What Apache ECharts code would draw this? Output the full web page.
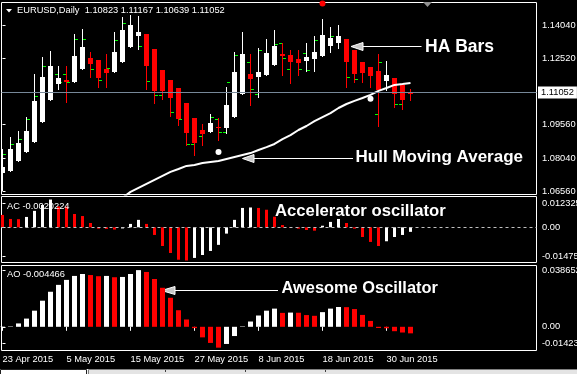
<!DOCTYPE html>
<html><head><meta charset="utf-8">
<script src="https://cdn.jsdelivr.net/npm/echarts@6.0.0/dist/echarts.min.js"></script>
<style>html,body{margin:0;padding:0;background:#000;overflow:hidden}#c{width:577px;height:374px}</style>
</head><body><div id="c"></div>
<script>
// ---------- data ----------
const symbolName = 'EURUSD,Daily';
const lastOHLC = [1.10823, 1.11167, 1.10639, 1.11052];

const haOpen = [1.0737,1.0746,1.0791,1.0832,1.0877,1.0967,1.1066,1.1138,1.1156,1.1147,
  1.1206,1.1255,1.1246,1.1206,1.1192,1.1237,1.1305,1.1355,1.1364,1.1296,
  1.1201,1.1156,1.1120,1.1053,1.0985,1.0931,1.0922,1.0944,1.0940,1.0990,
  1.1093,1.1183,1.1170,1.1179,1.1224,1.1273,1.1269,1.1251,1.1242,1.1251,
  1.1264,1.1309,1.1323,1.1341,1.1291,1.1237,1.1215,1.1197,1.1152,1.1165,
  1.1134,1.1102];
const haClose = [1.0764,1.0845,1.0872,1.0926,1.1062,1.1170,1.1219,1.1165,1.1147,1.1264,
  1.1305,1.1228,1.1165,1.1188,1.1282,1.1382,1.1404,1.1373,1.1219,1.1107,
  1.1107,1.1075,1.0981,1.0917,1.0872,1.0913,1.0963,1.0940,1.1044,1.1192,
  1.1273,1.1161,1.1192,1.1278,1.1309,1.1264,1.1237,1.1233,1.1260,1.1282,
  1.1359,1.1346,1.1355,1.1237,1.1183,1.1188,1.1174,1.1111,1.1179,1.1093,
  1.1066,1.1092];
const haLow = [1.0661,1.0746,1.0791,1.0832,1.0877,1.0967,1.1066,1.1116,1.1057,1.1147,
  1.1206,1.1170,1.1125,1.1125,1.1192,1.1237,1.1305,1.1296,1.1116,1.1053,
  1.1071,1.0994,1.0953,1.0863,1.0818,1.0863,1.0922,1.0886,1.0917,1.0990,
  1.1093,1.1044,1.1080,1.1179,1.1224,1.1179,1.1143,1.1179,1.1197,1.1197,
  1.1264,1.1282,1.1300,1.1125,1.1147,1.1147,1.1125,1.0949,1.1111,1.1035,
  1.1026,1.1064];
const haHigh = [1.0845,1.0899,1.0926,1.0990,1.1183,1.1260,1.1287,1.1219,1.1219,1.1364,
  1.1386,1.1282,1.1246,1.1273,1.1373,1.1440,1.1449,1.1445,1.1364,1.1296,
  1.1201,1.1156,1.1120,1.1053,1.0985,1.0958,1.1003,1.0985,1.1125,1.1282,
  1.1373,1.1273,1.1300,1.1341,1.1382,1.1323,1.1291,1.1291,1.1323,1.1355,
  1.1431,1.1395,1.1404,1.1341,1.1291,1.1237,1.1215,1.1273,1.1242,1.1165,
  1.1134,1.1117];

// underlying OHLC bar open / close ticks (visible ones)
const N = null;
const barOpen = [N,N,N,N,N,N,N,1.1183,1.1183,N,
  N,N,N,N,N,N,N,N,N,N,
  1.1086,N,N,N,1.0867,1.0901,N,1.0979,1.0921,N,
  N,1.1233,1.1093,N,N,1.1320,1.1204,N,1.1276,N,
  N,N,N,N,N,N,N,1.1003,N,N,
  1.1047,N];
const barClose = [1.0821,1.0867,1.0886,1.0976,1.1081,1.1218,N,1.1143,1.1143,1.1338,
  1.1338,1.1203,1.1152,1.1209,1.1333,1.1409,N,1.1306,1.1149,1.1086,
  N,1.1012,1.0976,1.0867,N,N,1.0988,1.0921,1.1147,1.1267,
  N,1.1114,1.1287,N,1.1317,1.1254,N,1.1204,1.1201,1.1333,
  N,1.1354,N,1.1167,1.1159,N,N,1.1234,N,1.1047,
  N,N];

const hullMA = [N,N,N,N,N,N,N,N,N,N,N,N,N,N,N,
  1.0625,1.0652,1.0670,1.0688,1.0706,1.0724,1.0742,1.0755,1.0769,1.0773,
  1.0782,1.0787,1.0791,1.0800,1.0809,1.0818,1.0827,1.0841,1.0854,1.0868,
  1.0890,1.0908,1.0931,1.0949,1.0971,1.0989,1.1007,1.1030,1.1048,1.1062,
  1.1075,1.1089,1.1107,1.1120,1.1134,1.1138,1.1143];
const hullDotIdx = [27, 46];
const hullDotVal = [1.0832, 1.1072];
const alertIdx = [40];
const alertVal = [1.1501];

const ac = [0.0055,0.0037,0.0036,0.0046,0.0073,0.0099,0.012325,0.0093,0.0092,0.0059,
  0.0050,0.0019,-0.0006,-0.0007,-0.0010,-0.0005,0.0015,0.0033,0.0015,-0.0034,
  -0.0083,-0.0114,-0.0144,-0.01475,-0.0136,-0.0123,-0.0105,-0.0078,-0.0028,0.0033,
  0.0086,0.0088,0.0086,0.0078,0.0047,0.0010,-0.0003,-0.0006,-0.0012,-0.0015,
  0.0007,0.0024,0.0037,0.0019,-0.0006,-0.0043,-0.0065,-0.0083,-0.0062,-0.0043,
  -0.0034,-0.0020224];
const acPrev = 0.0060;
const ao = [0.0002,0.0003,0.0023,0.0056,0.0110,0.0178,0.0239,0.0286,0.0320,0.0347,
  0.0360,0.0353,0.0345,0.0347,0.0338,0.0340,0.0360,0.038652,0.0374,0.0326,
  0.0266,0.0198,0.0113,0.0050,-0.0009,-0.0072,-0.0110,-0.01423,-0.0117,-0.0063,
  0.0003,0.0036,0.0077,0.0110,0.0124,0.0095,0.0097,0.0096,0.0080,0.0075,
  0.0100,0.0124,0.0135,0.0134,0.0121,0.0081,0.0040,-0.0008,-0.0010,-0.0030,
  -0.0039,-0.004466];
const aoPrev = 0.0001;

const dateLabels = ['23 Apr 2015','5 May 2015','15 May 2015','27 May 2015','8 Jun 2015','18 Jun 2015','30 Jun 2015'];
const dateLabelIdx = [0, 8, 16, 24, 32, 40, 48];
const priceTicks = [1.14040, 1.12520, 1.09560, 1.08040, 1.06560];
const acTickPos = [0.010656, 0, -0.013054];
const acTickText = ['0.012325', '0.00', '-0.01475'];
const aoTickPos = [0.03826, 0, -0.011253];
const aoTickText = ['0.038652', '0.00', '-0.01423'];

// ---------- chart ----------
const FONT = '"Liberation Sans", Arial, sans-serif';
const RED = '#ff0000', WHITE = '#ffffff';
const X_MIN = -0.125, X_MAX = 66.75;

const chart = echarts.init(document.getElementById('c'), null, {renderer: 'canvas'});

function tickRenderer(side) {
  return function (params, api) {
    const p = api.coord([api.value(0), api.value(1)]);
    const col = Math.floor(p[0]);
    const row = Math.floor(p[1]);
    return {type: 'rect', shape: {x: side < 0 ? col - 3 : col + 1, y: row, width: 3, height: 1},
      style: {fill: '#00ff00'}};
  };
}
function haRenderer(params, api) {
  const i = api.value(0), o = api.value(1), c = api.value(2), l = api.value(3), h = api.value(4);
  const po = api.coord([i, o]), pc = api.coord([i, c]), pl = api.coord([i, l]), ph = api.coord([i, h]);
  const x = Math.floor(po[0]) + 0.5;
  const col = c >= o ? WHITE : RED;
  const top = Math.round(Math.min(po[1], pc[1])), bot = Math.round(Math.max(po[1], pc[1]));
  return {type: 'group', children: [
    {type: 'line', shape: {x1: x, y1: Math.round(ph[1]), x2: x, y2: Math.round(pl[1]) + 1}, style: {stroke: col, lineWidth: 1}},
    {type: 'rect', shape: {x: x - 2.5, y: top, width: 5, height: Math.max(bot - top, 1)}, style: {fill: col}}
  ]};
}

function gridCfg(top, height) {
  return {left: 1.5, top: top, width: 535, height: height, show: true, borderColor: '#ffffff', borderWidth: 1,
    backgroundColor: 'transparent', containLabel: false, outerBoundsMode: 'none'};
}
function yAxisCfg(k, min, max, pos, texts) {
  return {type: 'value', gridIndex: k, position: 'right', min: min, max: max,
    splitLine: {show: false}, axisLine: {show: false},
    axisTick: {show: true, customValues: pos, length: 3, lineStyle: {color: '#fff'}},
    axisLabel: {customValues: pos, margin: 5.5, color: '#fff', fontSize: 9.3, fontFamily: FONT,
      formatter: function (v) { const j = pos.findIndex(p => Math.abs(p - v) < 1e-9); return texts ? texts[j] : v.toFixed(5); }}};
}

const haData = haOpen.map((o, i) => [i, o, haClose[i], haLow[i], haHigh[i]]);
const openData = barOpen.map((v, i) => [i, v]).filter(d => d[1] !== null);
const closeData = barClose.map((v, i) => [i, v]).filter(d => d[1] !== null);

const option = {
  backgroundColor: '#000000',
  animation: false,
  title: [
    {text: symbolName + '  ' + lastOHLC.map(v => v.toFixed(5)).join(' '), left: 17, top: 5, padding: 0,
      textStyle: {color: '#ffffff', fontSize: 9.3, fontWeight: 'normal', fontFamily: FONT, lineHeight: 11}},
    {text: 'AC ' + String(ac[ac.length - 1]), left: 7, top: 200.5, padding: 0,
      textStyle: {color: '#ffffff', fontSize: 9.3, fontWeight: 'normal', fontFamily: FONT, lineHeight: 11}},
    {text: 'AO ' + String(ao[ao.length - 1]), left: 7, top: 269, padding: 0,
      textStyle: {color: '#ffffff', fontSize: 9.3, fontWeight: 'normal', fontFamily: FONT, lineHeight: 11}}
  ],
  grid: [gridCfg(2.5, 192), gridCfg(196.5, 66), gridCfg(265.5, 85)],
  xAxis: [0, 1, 2].map(k => ({
    type: 'value', gridIndex: k, min: X_MIN, max: X_MAX, show: k === 2,
    splitLine: {show: false}, axisLine: {show: false},
    axisTick: {show: true, customValues: dateLabelIdx, length: 4, lineStyle: {color: '#fff'}},
    axisLabel: {customValues: dateLabelIdx, color: '#fff', fontSize: 9.3, fontFamily: FONT, align: 'left', margin: 4.5,
      formatter: v => dateLabels[dateLabelIdx.indexOf(Math.round(v))]}
  })),
  yAxis: [
    yAxisCfg(0, 1.06403, 1.15054, priceTicks, null),
    yAxisCfg(1, -0.015629, 0.013675, acTickPos, acTickText),
    yAxisCfg(2, -0.016163, 0.041807, aoTickPos, aoTickText)
  ],
  series: [
    {type: 'custom', name: 'open', xAxisIndex: 0, yAxisIndex: 0, clip: true, z: 1, silent: true,
      renderItem: tickRenderer(-1), encode: {x: 0, y: 1}, data: openData,
      markLine: {silent: true, symbol: ['none', 'none'], animation: false,
        lineStyle: {color: '#778899', width: 1, type: 'solid'},
        label: {show: true, position: 'end', formatter: lastOHLC[3].toFixed(5), backgroundColor: '#ffffff',
          color: '#000000', padding: [2, 3, 1, 3], fontSize: 9.3, fontFamily: FONT, distance: 1.5},
        data: [{yAxis: lastOHLC[3]}]}},
    {type: 'custom', name: 'close', xAxisIndex: 0, yAxisIndex: 0, clip: true, z: 1, silent: true,
      renderItem: tickRenderer(1), encode: {x: 0, y: 1}, data: closeData},
    {type: 'custom', name: 'HA', xAxisIndex: 0, yAxisIndex: 0, clip: true, z: 2, silent: true,
      renderItem: haRenderer, encode: {x: 0, y: [1, 2, 3, 4]}, data: haData},
    {type: 'line', name: 'Hull', xAxisIndex: 0, yAxisIndex: 0, z: 3, clip: true, showSymbol: false, silent: true,
      connectNulls: false, lineStyle: {color: '#ffffff', width: 2}, data: hullMA.map((v, i) => [i, v])},
    {type: 'scatter', xAxisIndex: 0, yAxisIndex: 0, z: 4, silent: true, symbolSize: 6,
      itemStyle: {color: '#ffffff', opacity: 1}, data: hullDotIdx.map((i, k) => [i, hullDotVal[k]])},
    {type: 'scatter', xAxisIndex: 0, yAxisIndex: 0, z: 4, silent: true, symbolSize: 6,
      itemStyle: {color: RED, opacity: 1}, data: alertIdx.map((i, k) => [i, alertVal[k]])},
    {type: 'bar', name: 'AC', xAxisIndex: 1, yAxisIndex: 1, barWidth: 3, silent: true,
      data: ac.map((v, i) => ({value: [i, v], itemStyle: {color: v > (i ? ac[i - 1] : acPrev) ? WHITE : RED}})),
      markLine: {silent: true, symbol: ['none', 'none'], animation: false, label: {show: false},
        lineStyle: {color: '#c0c0c0', width: 1, type: [3, 3]}, data: [{yAxis: 0}]}},
    {type: 'bar', name: 'AO', xAxisIndex: 2, yAxisIndex: 2, barWidth: 5, silent: true,
      data: ao.map((v, i) => ({value: [i, v], itemStyle: {color: v > (i ? ao[i - 1] : aoPrev) ? WHITE : RED}}))}
  ],
  graphic: [
    {type: 'polygon', shape: {points: [[6, 9], [12, 9], [9, 12.5]]}, style: {fill: '#ffffff'}, silent: true},
    {type: 'polygon', shape: {points: [[423, 2], [432, 2], [427.5, 7]]}, style: {fill: '#909090'}, silent: true},
    // HA Bars
    {type: 'line', shape: {x1: 362, y1: 46.5, x2: 421.5, y2: 46.5}, style: {stroke: '#fff', lineWidth: 1}, silent: true},
    {type: 'polygon', shape: {points: [[351, 46.5], [363, 42.5], [363, 50.5]]}, style: {fill: '#c8c8c8', stroke: '#fff', lineWidth: 1}, silent: true},
    {type: 'text', x: 425, y: 47, style: {text: 'HA Bars', fill: '#fff', font: 'bold 17.5px ' + FONT, verticalAlign: 'middle'}, silent: true},
    // Hull
    {type: 'line', shape: {x1: 253, y1: 158.5, x2: 353, y2: 158.5}, style: {stroke: '#fff', lineWidth: 1}, silent: true},
    {type: 'polygon', shape: {points: [[242.5, 158.5], [254, 154.5], [254, 162.5]]}, style: {fill: '#c8c8c8', stroke: '#fff', lineWidth: 1}, silent: true},
    {type: 'text', x: 355.5, y: 157, style: {text: 'Hull Moving Average', fill: '#fff', font: 'bold 17px ' + FONT, verticalAlign: 'middle'}, silent: true},
    // AC
    {type: 'text', x: 275, y: 211.5, style: {text: 'Accelerator oscillator', fill: '#fff', font: 'bold 16.7px ' + FONT, verticalAlign: 'middle'}, silent: true},
    // AO
    {type: 'line', shape: {x1: 174, y1: 290.5, x2: 278, y2: 290.5}, style: {stroke: '#fff', lineWidth: 1}, silent: true},
    {type: 'polygon', shape: {points: [[161.5, 290.5], [175, 286.5], [175, 294.5]]}, style: {fill: '#c8c8c8', stroke: '#fff', lineWidth: 1}, silent: true},
    {type: 'text', x: 281.5, y: 288.5, style: {text: 'Awesome Oscillator', fill: '#fff', font: 'bold 16.4px ' + FONT, verticalAlign: 'middle'}, silent: true},
    // bottom tab strip
    {type: 'rect', shape: {x: 0, y: 369, width: 577, height: 5}, style: {fill: '#f0f0f0'}, silent: true},
    {type: 'rect', shape: {x: 0.5, y: 369.5, width: 86, height: 6}, style: {fill: '#ffffff', stroke: '#202020', lineWidth: 1}, silent: true},
    {type: 'rect', shape: {x: 88.5, y: 369.5, width: 490, height: 6}, style: {fill: '#e4e4e4', stroke: '#808080', lineWidth: 1}, silent: true},
    {type: 'line', shape: {x1: 165.5, y1: 370, x2: 165.5, y2: 372}, style: {stroke: '#404040', lineWidth: 1}, silent: true},
    {type: 'line', shape: {x1: 245.5, y1: 370, x2: 245.5, y2: 372}, style: {stroke: '#404040', lineWidth: 1}, silent: true},
    {type: 'line', shape: {x1: 325.5, y1: 370, x2: 325.5, y2: 372}, style: {stroke: '#404040', lineWidth: 1}, silent: true}
  ]
};
chart.setOption(option);
</script>
</body></html>
